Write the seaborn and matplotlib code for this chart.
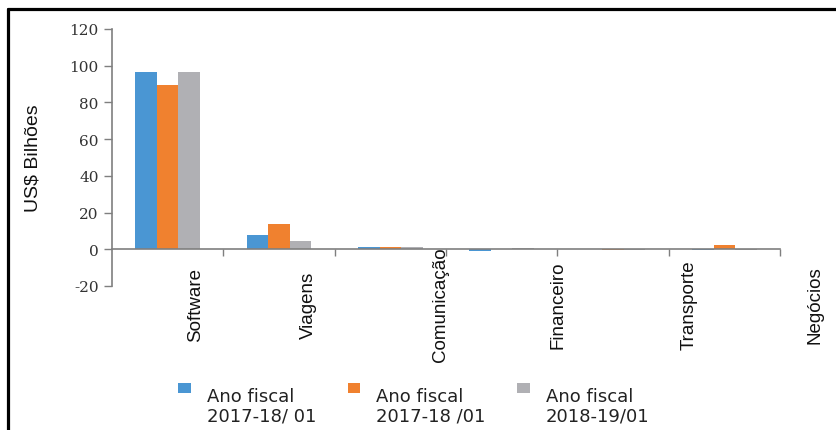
import matplotlib
matplotlib.use('Agg')
import matplotlib.pyplot as plt
from matplotlib import font_manager
from matplotlib.lines import Line2D
from matplotlib.patches import Rectangle
from matplotlib.legend_handler import HandlerPatch
import matplotlib.transforms as mtransforms
import seaborn as sns
import pandas as pd

# dados (US$ bilhões)
categorias = ['Software', 'Viagens', 'Comunicação', 'Financeiro', 'Transporte', 'Negócios']
series = ['Ano fiscal\n2017-18/ 01', 'Ano fiscal\n2017-18 /01', 'Ano fiscal\n2018-19/01']
valores_a = [96.4, 7.9, 1.5, -0.8, 0.0, -0.6]
valores_b = [89.5, 13.8, 1.0, 0.0, -0.6, 2.5]
valores_c = [96.4, 4.3, 1.3, 0.8, -0.4, -0.3]
cores = ['#4a96d3', '#f0812f', '#b0b0b4']

df = pd.DataFrame({
    'categoria': categorias * 3,
    'serie': [s for s in series for _ in categorias],
    'valor': valores_a + valores_b + valores_c,
})


def pick_font(nomes):
    for nome in nomes:
        try:
            font_manager.findfont(nome, fallback_to_default=False)
            return nome
        except ValueError:
            continue
    return 'DejaVu Sans'


narrow = pick_font(['Liberation Sans Narrow', 'Liberation Sans'])

sns.set_style('white')
plt.rcParams['font.family'] = ['DejaVu Sans']
plt.rcParams['axes.unicode_minus'] = False

fig = plt.figure(figsize=(8.37, 4.31), dpi=100)
ax = fig.add_axes([112 / 837, 1 - 287 / 431, 668 / 837, 257 / 431])

sns.barplot(data=df, x='categoria', y='valor', hue='serie', order=categorias,
            hue_order=series, palette=cores, width=0.58, saturation=1,
            gap=0, linewidth=0, errorbar=None, ax=ax)

ax.set_xlim(-0.5, len(categorias) - 0.5)
ax.set_ylim(-20, 120)
ax.set_yticks(range(-20, 121, 20))
ax.tick_params(axis='y', labelsize=11, colors='#7f7f7f', length=6, width=1,
               direction='out', left=True)
for lab in ax.get_yticklabels():
    lab.set_family('DejaVu Serif')
    lab.set_color('#333333')

# ticks do eixo x nos limites entre grupos
ax.set_xticks([i + 0.5 for i in range(len(categorias))])
ax.set_xticklabels([])
ax.tick_params(axis='x', length=5, width=1, colors='#7f7f7f', bottom=True, direction='out')

ax.spines['top'].set_visible(False)
ax.spines['right'].set_visible(False)
ax.spines['bottom'].set_position(('data', 0))
for s in ['left', 'bottom']:
    ax.spines[s].set_color('#7f7f7f')
    ax.spines[s].set_linewidth(1.2)

ax.set_xlabel('')
ax.set_ylabel('US$ Bilhões', fontsize=14, family=narrow, color='#111111', labelpad=20)

# rótulos das categorias, deslocados como no original
desloc = [0.25, 0.26, 0.45, 0.51, 0.68, 0.81]
trans = mtransforms.blended_transform_factory(ax.transData, fig.transFigure)
for i, cat in enumerate(categorias):
    ax.text(i + desloc[i], 1 - 305 / 431, cat, transform=trans,
            rotation=90, ha='center', va='center', fontsize=13.5, family=narrow,
            color='#111111', clip_on=False)


def marcador_topo(legend, orig_handle, xdescent, ydescent, width, height, fontsize):
    # quadradinho alinhado com a primeira linha do texto
    return Rectangle((-xdescent, -ydescent + fontsize * 1.05), width, height)


sns.move_legend(ax, 'upper left', bbox_to_anchor=(171 / 837, 1 - 381 / 431),
                bbox_transform=fig.transFigure, ncol=3, frameon=False, title=None,
                fontsize=13, handlelength=0.68, handleheight=0.47,
                handletextpad=0.9, columnspacing=1.75, borderaxespad=0,
                handler_map={Rectangle: HandlerPatch(patch_func=marcador_topo)})
for t in ax.get_legend().get_texts():
    t.set_color('#222222')
    t.set_linespacing(1.1)

# moldura parcial (topo e esquerda)
fig.add_artist(Line2D([8 / 837, 1], [1 - 10 / 431, 1 - 10 / 431],
                      transform=fig.transFigure, color='black', lw=2.3))
fig.add_artist(Line2D([8 / 837, 8 / 837], [0, 1 - 10 / 431],
                      transform=fig.transFigure, color='black', lw=2.3))

fig.savefig('out.png', dpi=100)
